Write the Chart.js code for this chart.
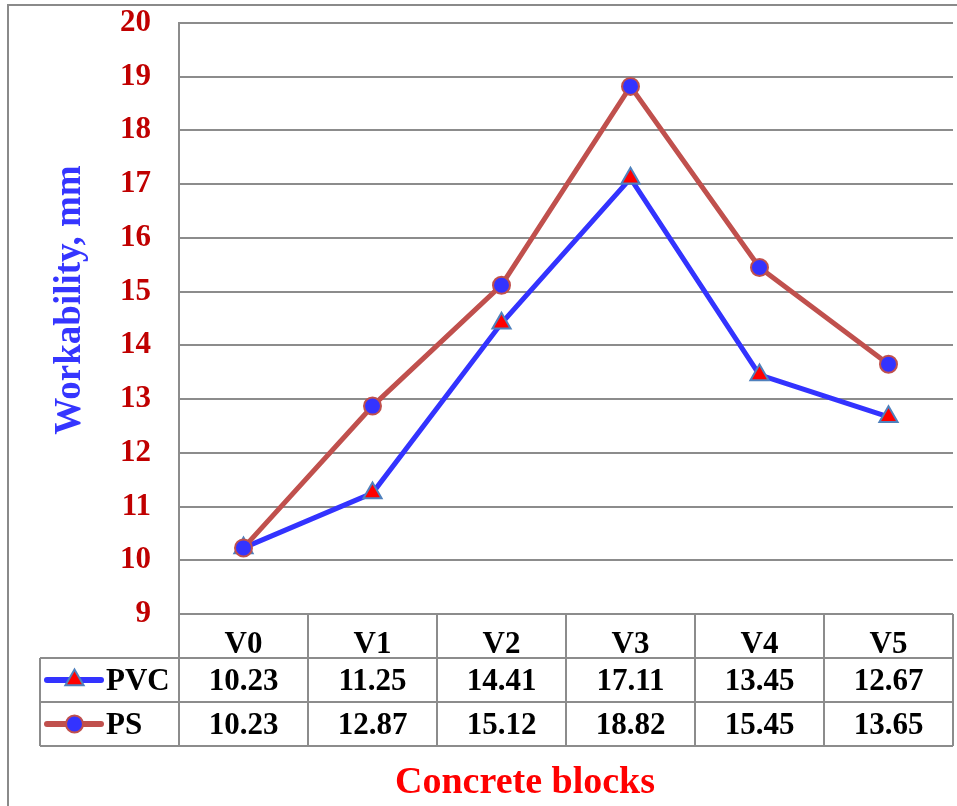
<!DOCTYPE html>
<html>
<head>
<meta charset="utf-8">
<script src="https://cdn.jsdelivr.net/npm/chart.js@4.4.1/dist/chart.umd.min.js"></script>
<style>
  html, body { margin: 0; padding: 0; background: #ffffff; }
  #c { display: block; }
</style>
</head>
<body>
<canvas id="c" width="957" height="806"></canvas>
<script>
// Workability of concrete blocks, two plastic-aggregate series
const categories = ['V0', 'V1', 'V2', 'V3', 'V4', 'V5'];
const pvcValues = [10.23, 11.25, 14.41, 17.11, 13.45, 12.67];
const psValues = [10.23, 12.87, 15.12, 18.82, 15.45, 13.65];
const seriesNames = ['PVC', 'PS'];
const yMin = 9;
const yMax = 20;
const yStep = 1;
const yTitle = 'Workability, mm';
const xTitle = 'Concrete blocks';

const SERIF = '"Liberation Serif", "Times New Roman", serif';
const GRID = '#8c8c8c';

// Data table under the plot: header row uses the x-axis ticks,
// value rows and legend keys are drawn here from the same scale.
const tablePlugin = {
  id: 'dataTable',
  beforeDraw(chart) {
    const ctx = chart.ctx;
    ctx.save();
    ctx.strokeStyle = '#8a8a8a';
    ctx.lineWidth = 2;
    ctx.beginPath();
    ctx.moveTo(8, chart.height);
    ctx.lineTo(8, 5);
    ctx.lineTo(chart.width, 5);
    ctx.stroke();
    ctx.restore();
  },
  afterDraw(chart) {
    const { ctx, chartArea } = chart;
    const xs = chart.scales.x;
    const rowH = 44;
    const top = chartArea.bottom;
    const left = chartArea.left;
    const right = chartArea.right;
    const keyLeft = 40;
    const rows = chart.data.datasets.length;
    const bottom = top + rowH * (rows + 1);

    ctx.save();
    ctx.strokeStyle = GRID;
    ctx.lineWidth = 2;
    ctx.beginPath();
    // horizontal rules
    ctx.moveTo(left, top); ctx.lineTo(right, top);
    for (let r = 1; r <= rows + 1; r++) {
      const y = top + rowH * r;
      ctx.moveTo(keyLeft, y); ctx.lineTo(right, y);
    }
    // vertical rules at category boundaries
    for (let i = 0; i <= categories.length; i++) {
      const px = xs.getPixelForValue(i - 0.5);
      ctx.moveTo(px, top); ctx.lineTo(px, bottom);
    }
    ctx.moveTo(keyLeft, top + rowH); ctx.lineTo(keyLeft, bottom);
    ctx.stroke();

    // value cells and legend keys
    ctx.font = 'bold 31px ' + SERIF;
    ctx.textBaseline = 'middle';
    chart.data.datasets.forEach((ds, r) => {
      const cy = top + rowH * (r + 1) + rowH / 2;
      ctx.fillStyle = '#000000';
      ctx.textAlign = 'center';
      ds.data.forEach((v, i) => {
        ctx.fillText(v.toFixed(2), xs.getPixelForValue(i), cy + 2);
      });
      // key line
      ctx.strokeStyle = ds.borderColor;
      ctx.lineWidth = ds.borderWidth + 1;
      ctx.lineCap = 'round';
      ctx.beginPath();
      ctx.moveTo(47, cy); ctx.lineTo(101, cy);
      ctx.stroke();
      // key marker
      ctx.fillStyle = ds.pointBackgroundColor;
      ctx.strokeStyle = ds.pointBorderColor;
      ctx.lineWidth = ds.pointBorderWidth;
      Chart.helpers.drawPoint(ctx, {
        pointStyle: ds.pointStyle,
        radius: ds.pointRadius,
        borderWidth: ds.pointBorderWidth,
        rotation: 0
      }, 74.5, cy);
      ctx.fillStyle = '#000000';
      ctx.textAlign = 'left';
      ctx.fillText(ds.label, 106, cy + 2);
    });

    // axis titles
    ctx.font = 'bold 37px ' + SERIF;
    ctx.fillStyle = '#3535ff';
    ctx.textAlign = 'center';
    ctx.textBaseline = 'middle';
    ctx.save();
    ctx.translate(70, 300);
    ctx.rotate(-Math.PI / 2);
    ctx.fillText(yTitle, 0, 0);
    ctx.restore();

    ctx.font = 'bold 38px ' + SERIF;
    ctx.fillStyle = '#ff0000';
    ctx.fillText(xTitle, 525, 783);
    ctx.restore();
  }
};

new Chart(document.getElementById('c'), {
  type: 'line',
  data: {
    labels: categories,
    datasets: [
      {
        label: seriesNames[0],
        data: pvcValues,
        order: 1,
        borderColor: '#3333ff',
        borderWidth: 5,
        pointStyle: 'triangle',
        pointRadius: 10.5,
        pointBackgroundColor: '#ff0000',
        pointBorderColor: '#4f81bd',
        pointBorderWidth: 2,
        tension: 0,
        fill: false
      },
      {
        label: seriesNames[1],
        data: psValues,
        order: 0,
        borderColor: '#c0504d',
        borderWidth: 5,
        pointStyle: 'circle',
        pointRadius: 8.5,
        pointBackgroundColor: '#3333ff',
        pointBorderColor: '#c0504d',
        pointBorderWidth: 2,
        tension: 0,
        fill: false
      }
    ]
  },
  options: {
    responsive: false,
    animation: false,
    devicePixelRatio: 1,
    layout: { autoPadding: false, padding: { top: 23, right: 4, bottom: 0, left: 0 } },
    plugins: {
      legend: { display: false },
      tooltip: { enabled: false }
    },
    scales: {
      x: {
        type: 'category',
        offset: true,
        grid: { display: false },
        border: { display: false },
        ticks: {
          color: '#000000',
          font: { family: SERIF, size: 31, weight: 'bold', lineHeight: 1.2 },
          padding: 4,
          maxRotation: 0,
          autoSkip: false
        },
        afterFit(scale) {
          scale.height = 192;
          scale.paddingLeft = 0;
          scale.paddingRight = 0;
        }
      },
      y: {
        min: yMin,
        max: yMax,
        ticks: {
          stepSize: yStep,
          color: '#c00000',
          font: { family: SERIF, size: 31, weight: 'bold', lineHeight: 1.2 },
          padding: 28
        },
        grid: { color: GRID, lineWidth: 2, drawTicks: false },
        border: { display: true, color: GRID, width: 2 },
        afterFit(scale) {
          scale.width = 179;
          scale.paddingTop = 0;
          scale.paddingBottom = 0;
        }
      }
    }
  },
  plugins: [tablePlugin]
});
</script>
</body>
</html>
